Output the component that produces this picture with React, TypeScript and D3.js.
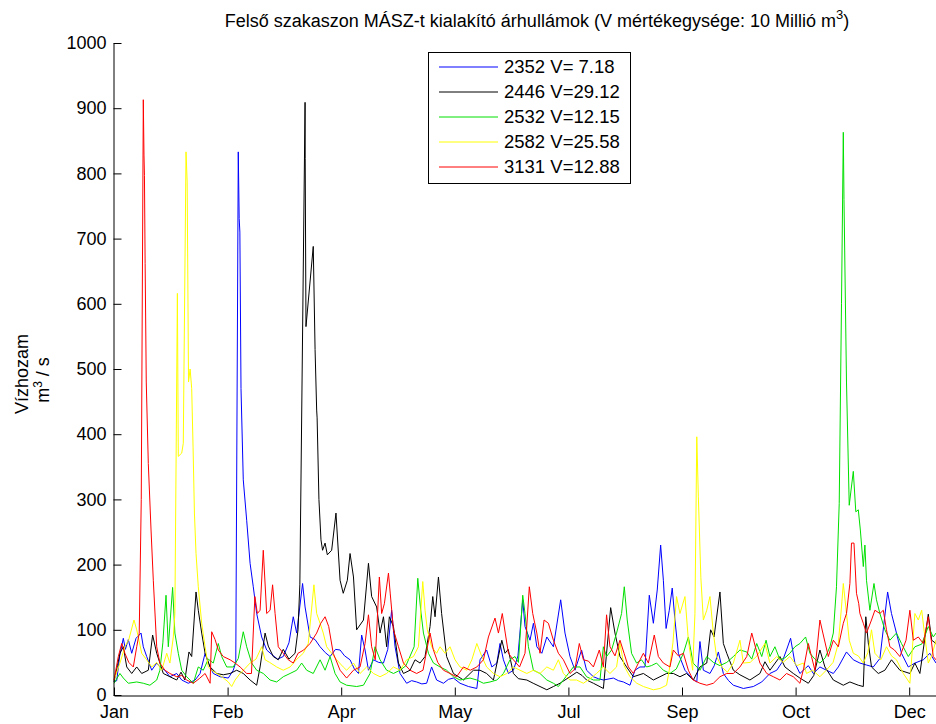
import React, { useEffect, useRef } from "react";
import * as d3 from "d3";

// Daily discharge waves (m3/s) at five stations, one year, day 0 = 1 January.
const seriesNames = ["2352 V= 7.18", "2446 V=29.12", "2532 V=12.15", "2582 V=25.58", "3131 V=12.88"];
const seriesColors = ["#0000ff", "#000000", "#00e000", "#ffff00", "#ff0000"];

const s2352: [number, number][] = [
  [0,20],[1.2,22],[2.5,60],[4.1,87],[5,70],[6.3,85],[7.8,64],[9.7,87],[11.9,95],[12.9,74],[14.4,59],[16.6,38],[18.8,49],[20.2,43],[22.4,38],[24.6,28],[27.6,33],[29.8,23],[32.7,18],[35.7,23],[37.9,33],[40.1,64],[41.5,49],[43.7,33],[46.7,28],[50.3,26],[52.5,38],[53.6,50],[54.7,833],[55.1,731],[55.4,710],[55.9,470],[56.9,330],[58.4,268],[59.9,202],[61.3,166],[62.8,125],[65,89],[67.2,69],[69.5,62],[72,55],[74.5,59],[77,80],[78.9,120],[80.4,95],[83,171],[84.1,135],[86.3,89],[88.5,85],[90.7,74],[93,65],[95.1,59],[97.5,70],[99.5,69],[101.5,60],[103.9,54],[105.8,40],[107.6,33],[109,92],[110.5,69],[112,38],[114.2,54],[116.5,50],[118.6,49],[120.5,70],[122.2,130],[123.7,74],[125.9,33],[128.8,18],[131,22],[133.2,20],[135.5,17],[137.6,18],[139.8,43],[142,23],[145,18],[147.2,24],[149.4,26],[152.3,18],[156,13],[159.7,10],[161.1,54],[164,69],[166.3,43],[168.5,49],[169.9,79],[171.4,54],[173.6,33],[175.8,38],[177.8,60],[179.9,146],[180.9,105],[183.1,84],[184.6,110],[186.1,74],[188.3,64],[190.5,89],[193.4,74],[196.6,146],[198.5,95],[200.7,59],[202.9,38],[205.8,69],[208,38],[211,28],[213.2,25],[215.4,23],[219.8,26],[222,22],[224.2,20],[227.1,15],[229.3,38],[231.5,43],[233.7,43],[235.6,153],[237.4,110],[239.1,161],[240.6,230],[241.8,176],[243,102],[244.4,130],[245.7,164],[246.9,115],[248.4,64],[251.3,38],[254.3,26],[256.5,20],[257.9,82],[259.4,38],[262.3,33],[264.2,45],[266,66],[268.2,33],[270.5,22],[272.6,15],[277,10],[281.4,13],[285.1,20],[288.7,33],[291.7,38],[294,50],[296,69],[297.8,87],[299.7,49],[301.9,33],[303.4,38],[305.6,45],[307.8,33],[310.7,43],[313.6,38],[316.6,33],[318.8,43],[322.4,66],[325.4,54],[328.3,49],[331.2,46],[334.2,43],[337.1,56],[340.5,158],[342.2,125],[344.4,95],[346.6,64],[349.6,43],[352.5,49],[356.2,54],[359.1,64],[361.8,49],[364,45]
];

const s2446: [number, number][] = [
  [0,20],[1.5,45],[2.6,64],[4.1,74],[5.6,43],[7.8,33],[10,43],[12.2,33],[15.1,38],[17,92],[18.8,64],[21.7,33],[24.6,28],[27.6,23],[29.5,35],[31.2,23],[33,66],[34.2,59],[36.1,158],[37.1,130],[38.6,95],[40.1,64],[42.3,43],[45.2,33],[48.1,31],[51.1,33],[54,38],[56.9,33],[59.9,23],[62.8,15],[64.3,43],[66.5,95],[67.9,75],[70.1,59],[72.3,54],[74.5,70],[77,55],[79.7,64],[81,100],[81.8,170],[84.1,909],[84.15,823],[84.5,565],[87.7,688],[88.5,530],[89.2,437],[89.4,425],[90.2,300],[91.1,238],[91.8,222],[92.9,233],[93.9,215],[95.8,222],[97.7,279],[99.5,176],[100.9,156],[102.7,176],[103.9,217],[105.4,181],[106.8,100],[109.8,115],[112,202],[113.4,151],[115.6,135],[117.1,95],[118.6,120],[120,74],[121.2,120],[123,105],[125.2,49],[127.4,33],[130.3,38],[132.5,54],[134.7,49],[136.9,59],[139.1,105],[140.3,151],[141.3,120],[142.8,181],[144.2,125],[146.4,59],[149.4,33],[153.8,23],[158.2,38],[161.1,38],[164,33],[167,23],[170.7,84],[172.1,64],[173.5,70],[175.8,33],[178,25],[181.7,23],[184.5,18],[187.5,13],[190.5,8],[193.4,13],[196.3,18],[200.7,28],[203.7,35],[206,30],[208,23],[211,18],[215.4,10],[216.8,64],[218.6,134],[220.5,95],[222.7,59],[225.6,43],[228.6,28],[233,33],[237.4,23],[240.3,28],[243.2,33],[246.2,33],[249.1,28],[252,33],[255,23],[257.9,43],[260.9,49],[262.6,100],[264.1,89],[266.7,158],[268.2,79],[269.7,64],[272.6,38],[275.5,31],[279.9,23],[284.3,33],[286.5,51],[288.7,38],[293.1,59],[295.3,43],[299,33],[301.9,26],[305.6,18],[308,30],[310.7,69],[312.9,43],[316.6,23],[321,15],[323.9,20],[327.6,15],[329.8,13],[330.9,120],[332,80],[333.4,43],[336.4,33],[339.3,38],[342.2,54],[345.9,38],[350.3,33],[352.5,49],[354.7,33],[358.4,124],[359.9,84],[361.8,79],[364,60]
];

const s2532: [number, number][] = [
  [0,18],[2.6,33],[4.1,26],[6.3,18],[10,20],[12.9,18],[15.8,15],[18.8,23],[20.2,38],[21.5,80],[22.9,153],[23.9,74],[25.8,165],[26.8,95],[28.3,64],[29.8,38],[32,28],[34.9,18],[37.1,43],[39.3,38],[41.5,55],[43.7,49],[45.9,79],[47.4,59],[49.6,43],[52.5,43],[54.7,56],[56.9,97],[58.4,74],[60.6,49],[62.8,38],[65.7,33],[68.7,23],[71.6,20],[74.5,28],[77.5,33],[80.4,38],[82.6,49],[84.8,38],[87.7,33],[90.7,54],[92.9,38],[95.1,59],[97.3,33],[99.5,20],[102.4,15],[106.8,13],[109.8,15],[112.7,33],[114.9,74],[117.1,54],[120,38],[123,33],[125.9,38],[128.5,45],[132.1,74],[133.7,179],[135,130],[136.2,95],[138.4,64],[140.6,49],[143.5,43],[146.4,38],[149.4,28],[152.3,23],[156.7,26],[159.7,23],[162.6,18],[165.5,20],[168.5,23],[171.4,33],[174.3,54],[176.5,59],[178,50],[179.9,153],[180.9,125],[182.4,74],[184.6,38],[187.5,33],[190.5,23],[193.4,18],[195.6,13],[197.8,23],[200,33],[202.2,43],[205.1,43],[208,28],[211,23],[213.9,23],[215.4,74],[216.8,59],[219,69],[221.2,95],[223.4,125],[224.6,166],[225.9,115],[227.8,64],[230,49],[232.2,54],[234.4,43],[236.5,45],[238.8,49],[241.8,38],[244.7,33],[247.5,40],[250.6,64],[252.8,89],[254.9,49],[257.9,38],[260.9,59],[263.8,50],[266.7,45],[269.7,50],[272.6,59],[275.5,69],[278.5,66],[280.7,55],[282.9,79],[285.1,59],[287,84],[288.7,59],[290.9,74],[293.1,54],[295.3,57],[297.5,64],[299.7,74],[301.9,79],[304.4,89],[306.3,64],[308.5,55],[310.7,49],[313,57],[315.1,74],[316.6,95],[318,166],[319.2,294],[320.2,600],[321,863],[321.3,760],[322.4,480],[323.6,291],[325.4,343],[326.5,281],[327.6,284],[328.5,253],[329.8,197],[330.5,230],[331.2,176],[332.7,130],[334.5,171],[335.6,146],[337.1,125],[339.3,100],[341.5,84],[344.4,95],[346.6,79],[349.6,59],[352.5,74],[355.5,78],[358.4,105],[360.6,89],[361.8,95],[364,85]
];

const s2582: [number, number][] = [
  [0,23],[2.6,49],[4.8,74],[6.5,85],[8.8,115],[10,100],[12.2,64],[14.4,54],[16.6,43],[18.8,50],[21,38],[23.2,64],[24.6,49],[26.1,89],[26.8,125],[27.9,616],[28.3,366],[29.8,371],[30.5,386],[31.7,833],[32.2,787],[32.8,480],[33.5,500],[34.2,470],[34.8,380],[35.4,279],[36.1,217],[37.1,166],[38.6,110],[40.1,74],[41.5,43],[43,38],[45.2,33],[47.5,28],[50.3,20],[51.8,13],[53.3,23],[55.5,33],[57.5,40],[59.9,49],[62.5,55],[65,74],[66.5,54],[68.5,50],[71.6,43],[74.5,38],[77.5,43],[80.5,55],[83.3,64],[85.5,79],[88,169],[89.2,125],[90.7,110],[92.1,95],[93.6,74],[95.8,64],[98,54],[100.9,43],[102.4,38],[105.4,49],[108.3,33],[111.2,43],[114.2,33],[117.1,28],[120,33],[123,43],[125.9,38],[128.8,54],[131.8,59],[134,74],[135.9,174],[136.9,130],[137.9,100],[139.8,74],[142,64],[143.5,74],[145.7,64],[147.9,74],[150.1,54],[152.3,43],[155.3,38],[157.5,54],[159.7,79],[161.9,59],[164,43],[167,33],[169.9,28],[172.9,33],[175.8,43],[178.7,38],[181.7,33],[184.6,38],[187.5,33],[190.5,43],[193.4,38],[195.6,54],[197.8,33],[200.7,23],[203.6,23],[206.6,18],[209.5,25],[212.4,33],[215.4,43],[218.3,33],[221.2,43],[222.7,79],[224.5,45],[227.1,28],[230.1,18],[233,13],[237.4,8],[240.3,10],[243.2,15],[244.4,38],[246,80],[247.6,151],[249.1,125],[251.3,151],[252.8,84],[254.7,38],[255.7,125],[256.5,396],[257.2,304],[258.3,180],[259.4,115],[260.9,130],[262.3,151],[263.8,95],[265.2,59],[267.5,43],[270,35],[272.6,49],[275.5,84],[277,49],[280,50],[283,60],[286.5,79],[288.7,49],[291.7,59],[294.5,50],[297.5,59],[300.5,45],[303.4,49],[304.8,33],[307.5,38],[310.7,28],[313.5,38],[316.5,50],[318.8,79],[320.2,135],[321,171],[322.4,125],[323.6,84],[325.4,64],[327.6,60],[329.8,49],[331.8,65],[333.4,100],[334.9,64],[337.5,54],[340,74],[342.2,60],[344.4,54],[347.4,33],[350.3,18],[352.5,125],[354,115],[355.5,130],[356.9,89],[358.4,49],[359.9,60],[361.8,84],[364,70]
];

const s3131: [number, number][] = [
  [0,23],[1.9,59],[3.4,79],[4.8,64],[6.5,50],[8.5,43],[10,74],[11.1,95],[12,300],[12.9,913],[13.2,828],[13.4,797],[13.7,662],[14.2,480],[15.1,355],[16.3,253],[17.3,176],[18.8,74],[20.2,49],[22.4,38],[24.6,33],[27.6,28],[29.8,30],[32,23],[34.9,18],[37.5,25],[40.1,33],[42.3,18],[43,97],[44.5,85],[45.9,69],[48.1,59],[51.1,54],[53.3,49],[55.5,43],[58.4,33],[60.5,33],[62,151],[63.1,125],[64.3,130],[65.7,222],[67.2,125],[68.7,130],[69.8,169],[70.9,125],[72.3,74],[74.5,64],[76.7,54],[78.9,49],[81,64],[83.5,69],[86.3,79],[89.2,95],[91,110],[92.9,120],[94.5,105],[96.5,64],[99.5,38],[102.4,26],[105.4,38],[108.3,43],[110.5,79],[112,123],[113.4,74],[115,54],[116.8,181],[117.8,125],[119,140],[120.8,187],[121.6,155],[123,100],[125.2,74],[127.4,49],[130.3,38],[133.2,33],[136,38],[139.1,95],[140.5,70],[142.5,50],[145,38],[147.9,33],[150.8,28],[153.8,43],[156.8,38],[159.7,43],[162.6,54],[164.8,89],[167.7,118],[169.2,95],[170.9,125],[172.2,95],[173.6,64],[175.8,54],[178.5,43],[180.9,64],[182.8,166],[184.3,125],[186.1,95],[187.5,64],[189.3,115],[191.2,110],[193.4,84],[195.6,64],[197.8,54],[200.7,33],[202.9,40],[204.8,79],[206.6,54],[208.8,52],[211,43],[213.6,69],[215.4,43],[216.8,123],[218.3,74],[220.5,60],[222.7,84],[224.5,64],[226.4,43],[228.6,33],[230.8,49],[233,64],[235.2,49],[237.8,92],[239.6,59],[241.8,49],[244.7,43],[246.2,69],[248.4,60],[250.6,64],[252.8,38],[254.9,23],[257.9,18],[260.9,15],[263.8,18],[266.7,28],[269.7,33],[272.6,33],[275.5,43],[278.5,59],[280.7,95],[282.2,75],[284.3,49],[287.3,33],[290.2,28],[293.1,23],[296,33],[299,28],[301.9,18],[303.5,40],[305.6,79],[307,59],[308.5,38],[310.7,115],[312,95],[314.4,59],[316.6,84],[318.8,74],[321,110],[322.4,125],[323.9,171],[324.6,233],[325.7,233],[326.8,156],[327.8,140],[328.3,125],[329.8,110],[331.2,95],[333.4,115],[334.9,130],[337.1,125],[338.6,130],[340,100],[341.5,74],[343.5,69],[345.9,59],[348.6,84],[350.3,130],[351.8,84],[354,89],[356.2,79],[358.4,120],[360.6,59],[361.8,54],[364,70]
];

const seriesData = [s2352, s2446, s2532, s2582, s3131];

const yTickValues = [0, 100, 200, 300, 400, 500, 600, 700, 800, 900, 1000];
const xTickDays = [0, 50, 100, 150, 200, 250, 300, 350];
const yearStart = Date.UTC(2001, 0, 1);

const titleMain = "Felső szakaszon MÁSZ-t kialakító árhullámok (V mértékegysége: 10 Millió m";
const yLabelLine1 = "Vízhozam";

const FONT = "'Liberation Sans', Arial, Helvetica, sans-serif";
const W = 936;
const H = 724;
const left = 114;
const top = 43;
const bottom = 695;
const pxPerDay = 2.272;

export default function App() {
  const xAxisRef = useRef<SVGGElement>(null);
  const yAxisRef = useRef<SVGGElement>(null);

  const x = d3.scaleLinear().domain([0, 365]).range([left, left + 365 * pxPerDay]);
  const y = d3.scaleLinear().domain([0, 1000]).range([bottom, top]);
  const line = d3
    .line<[number, number]>()
    .x((d) => x(d[0]))
    .y((d) => y(d[1]));

  const monthFmt = d3.utcFormat("%b");

  useEffect(() => {
    const xa = d3
      .axisBottom(x)
      .tickValues(xTickDays)
      .tickFormat((d) => monthFmt(new Date(yearStart + (d as number) * 864e5)))
      .tickSizeInner(-8)
      .tickSizeOuter(0)
      .tickPadding(10);
    const ya = d3
      .axisLeft(y)
      .tickValues(yTickValues)
      .tickFormat((d) => String(d))
      .tickSizeInner(-8)
      .tickSizeOuter(0)
      .tickPadding(7);
    const gx = d3.select(xAxisRef.current!);
    gx.call(xa as any);
    const gy = d3.select(yAxisRef.current!);
    gy.call(ya as any);
    [gx, gy].forEach((g) => {
      g.attr("font-family", FONT).attr("font-size", 18);
      g.selectAll("path.domain").attr("stroke", "#000").attr("stroke-width", 1);
      g.selectAll(".tick line").attr("stroke", "#000").attr("stroke-width", 1);
      g.selectAll(".tick text").attr("fill", "#000");
    });
  }, []);

  const legendX = 428;
  const legendY = 52;
  const rowH = 25;

  return (
    <svg
      width={W}
      height={H}
      style={{ position: "absolute", left: 0, top: 0, background: "#fff" }}
      fontFamily={FONT}
    >
      <rect x={0} y={0} width={W} height={H} fill="#fff" />
      <text x={537} y={27} fontSize={18} textAnchor="middle" fill="#000">
        {titleMain}
        <tspan dy={-8} fontSize={13}>3</tspan>
        <tspan dy={8}>)</tspan>
      </text>

      <g>
        {seriesData.map((s, i) => (
          <path
            key={seriesNames[i]}
            d={line(s) ?? ""}
            fill="none"
            stroke={seriesColors[i]}
            strokeWidth={1}
            strokeLinejoin="round"
          />
        ))}
      </g>

      <g ref={yAxisRef} transform={`translate(${left - 0.5},0)`} />
      <g ref={xAxisRef} transform={`translate(0,${bottom + 0.5})`} />

      <text transform={`translate(28,374) rotate(-90)`} fontSize={18} textAnchor="middle" fill="#000">
        {yLabelLine1}
      </text>
      <text transform={`translate(49,380) rotate(-90)`} fontSize={18} textAnchor="middle" fill="#000">
        m<tspan dy={-7} fontSize={12}>3</tspan>
        <tspan dy={7}> / s</tspan>
      </text>

      <g transform={`translate(${legendX},${legendY})`}>
        <rect x={0.5} y={0.5} width={202} height={131} fill="#fff" stroke="#000" strokeWidth={1} />
        {seriesNames.map((name, i) => (
          <g key={name} transform={`translate(0,${15 + i * rowH})`}>
            <line x1={11} x2={70} y1={0} y2={0} stroke={seriesColors[i]} strokeWidth={1} />
            <text x={76} y={0} dy="0.35em" fontSize={18.5} fill="#000">
              {name}
            </text>
          </g>
        ))}
      </g>
    </svg>
  );
}
